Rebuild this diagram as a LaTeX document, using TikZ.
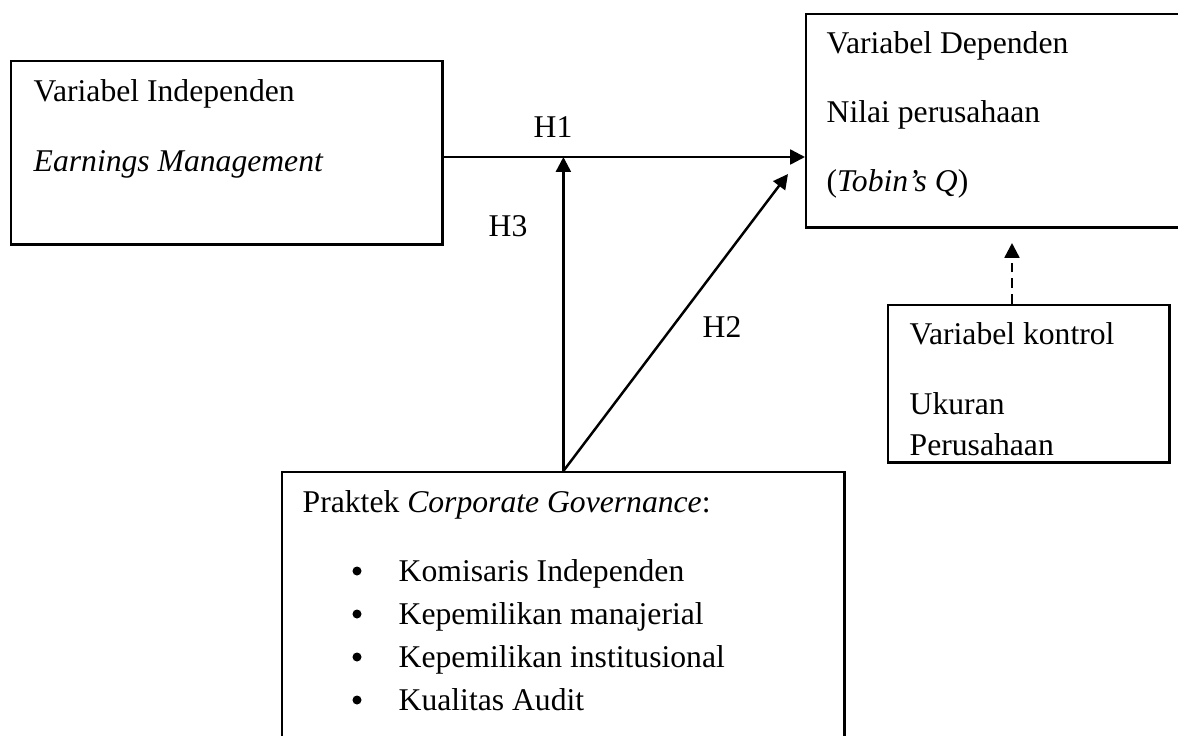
\documentclass[tikz,border=0pt]{standalone}
\usepackage{fontspec}
\setmainfont{Liberation Serif}
\usetikzlibrary{arrows.meta}
\tikzset{
  box/.style={draw, line width=0.7pt, anchor=north west, inner sep=0pt},
  txt/.style={anchor=base west, inner sep=0pt, font=\fontsize{9}{11}\selectfont},
  lbl/.style={inner sep=0pt, font=\fontsize{9}{11}\selectfont},
  dot/.style={circle, fill, inner sep=0pt, minimum size=0.09cm},
  hyp/.style={-{Triangle[length=4.2pt,width=4.2pt]}, line width=0.7pt},
}
\begin{document}
\begin{tikzpicture}[x=0.01cm, y=-0.01cm]
  \useasboundingbox (0,0) rectangle (1178,736);
  % Independent variable
  \node[box, minimum width=4.31cm, minimum height=1.83cm] (indep) at (10,60) {};
  \node[txt] (indep1) at (33,101) {Variabel Independen};
  \node[txt] (indep2) at (33,171) {\textit{Earnings Management}};
  % Dependent variable
  \node[box, minimum width=3.85cm, minimum height=2.13cm] (dep) at (805,13) {};
  \node[txt] (dep1) at (826,53) {Variabel Dependen};
  \node[txt] (dep2) at (826,122) {Nilai perusahaan};
  \node[txt] (dep3) at (826,191) {(\textit{Tobin's Q})};
  % Control variable
  \node[box, minimum width=2.81cm, minimum height=1.57cm] (ctl) at (887,304) {};
  \node[txt] (ctl1) at (909,344) {Variabel kontrol};
  \node[txt] (ctl2) at (909,414) {Ukuran};
  \node[txt] (ctl3) at (909,455) {Perusahaan};
  % Corporate governance
  \node[box, minimum width=5.62cm, minimum height=2.9cm] (cg) at (281,471) {};
  \node[txt] (cg0) at (302,512) {Praktek \textit{Corporate Governance}:};
  \foreach \name/\y/\item in {cga/581/Komisaris Independen,
                              cgb/624/Kepemilikan manajerial,
                              cgc/667/Kepemilikan institusional,
                              cgd/710/Kualitas Audit} {
    \node[dot] (\name dot) at (357,\y-10) {};
    \node[txt] (\name) at (398,\y) {\item};
  }

  % Hypotheses
  \coordinate (h1) at (0,157);
  \coordinate (h2end) at (788,174);
  \coordinate (ctltop) at (1012,243);
  \draw[hyp] (indep.east |- h1) -- (dep.west |- h1);
  \draw[hyp] (cg.north) -- (cg.north |- h1);
  \draw[hyp] (cg.north) -- (h2end);
  \draw[hyp, dash pattern=on 2.8pt off 1.7pt] (ctl.north -| ctltop) -- (ctltop);
  \node[lbl] (h1lbl) at (553,127) {H1};
  \node[lbl] (h3lbl) at (508,226) {H3};
  \node[lbl] (h2lbl) at (722,327) {H2};
\end{tikzpicture}
\end{document}
